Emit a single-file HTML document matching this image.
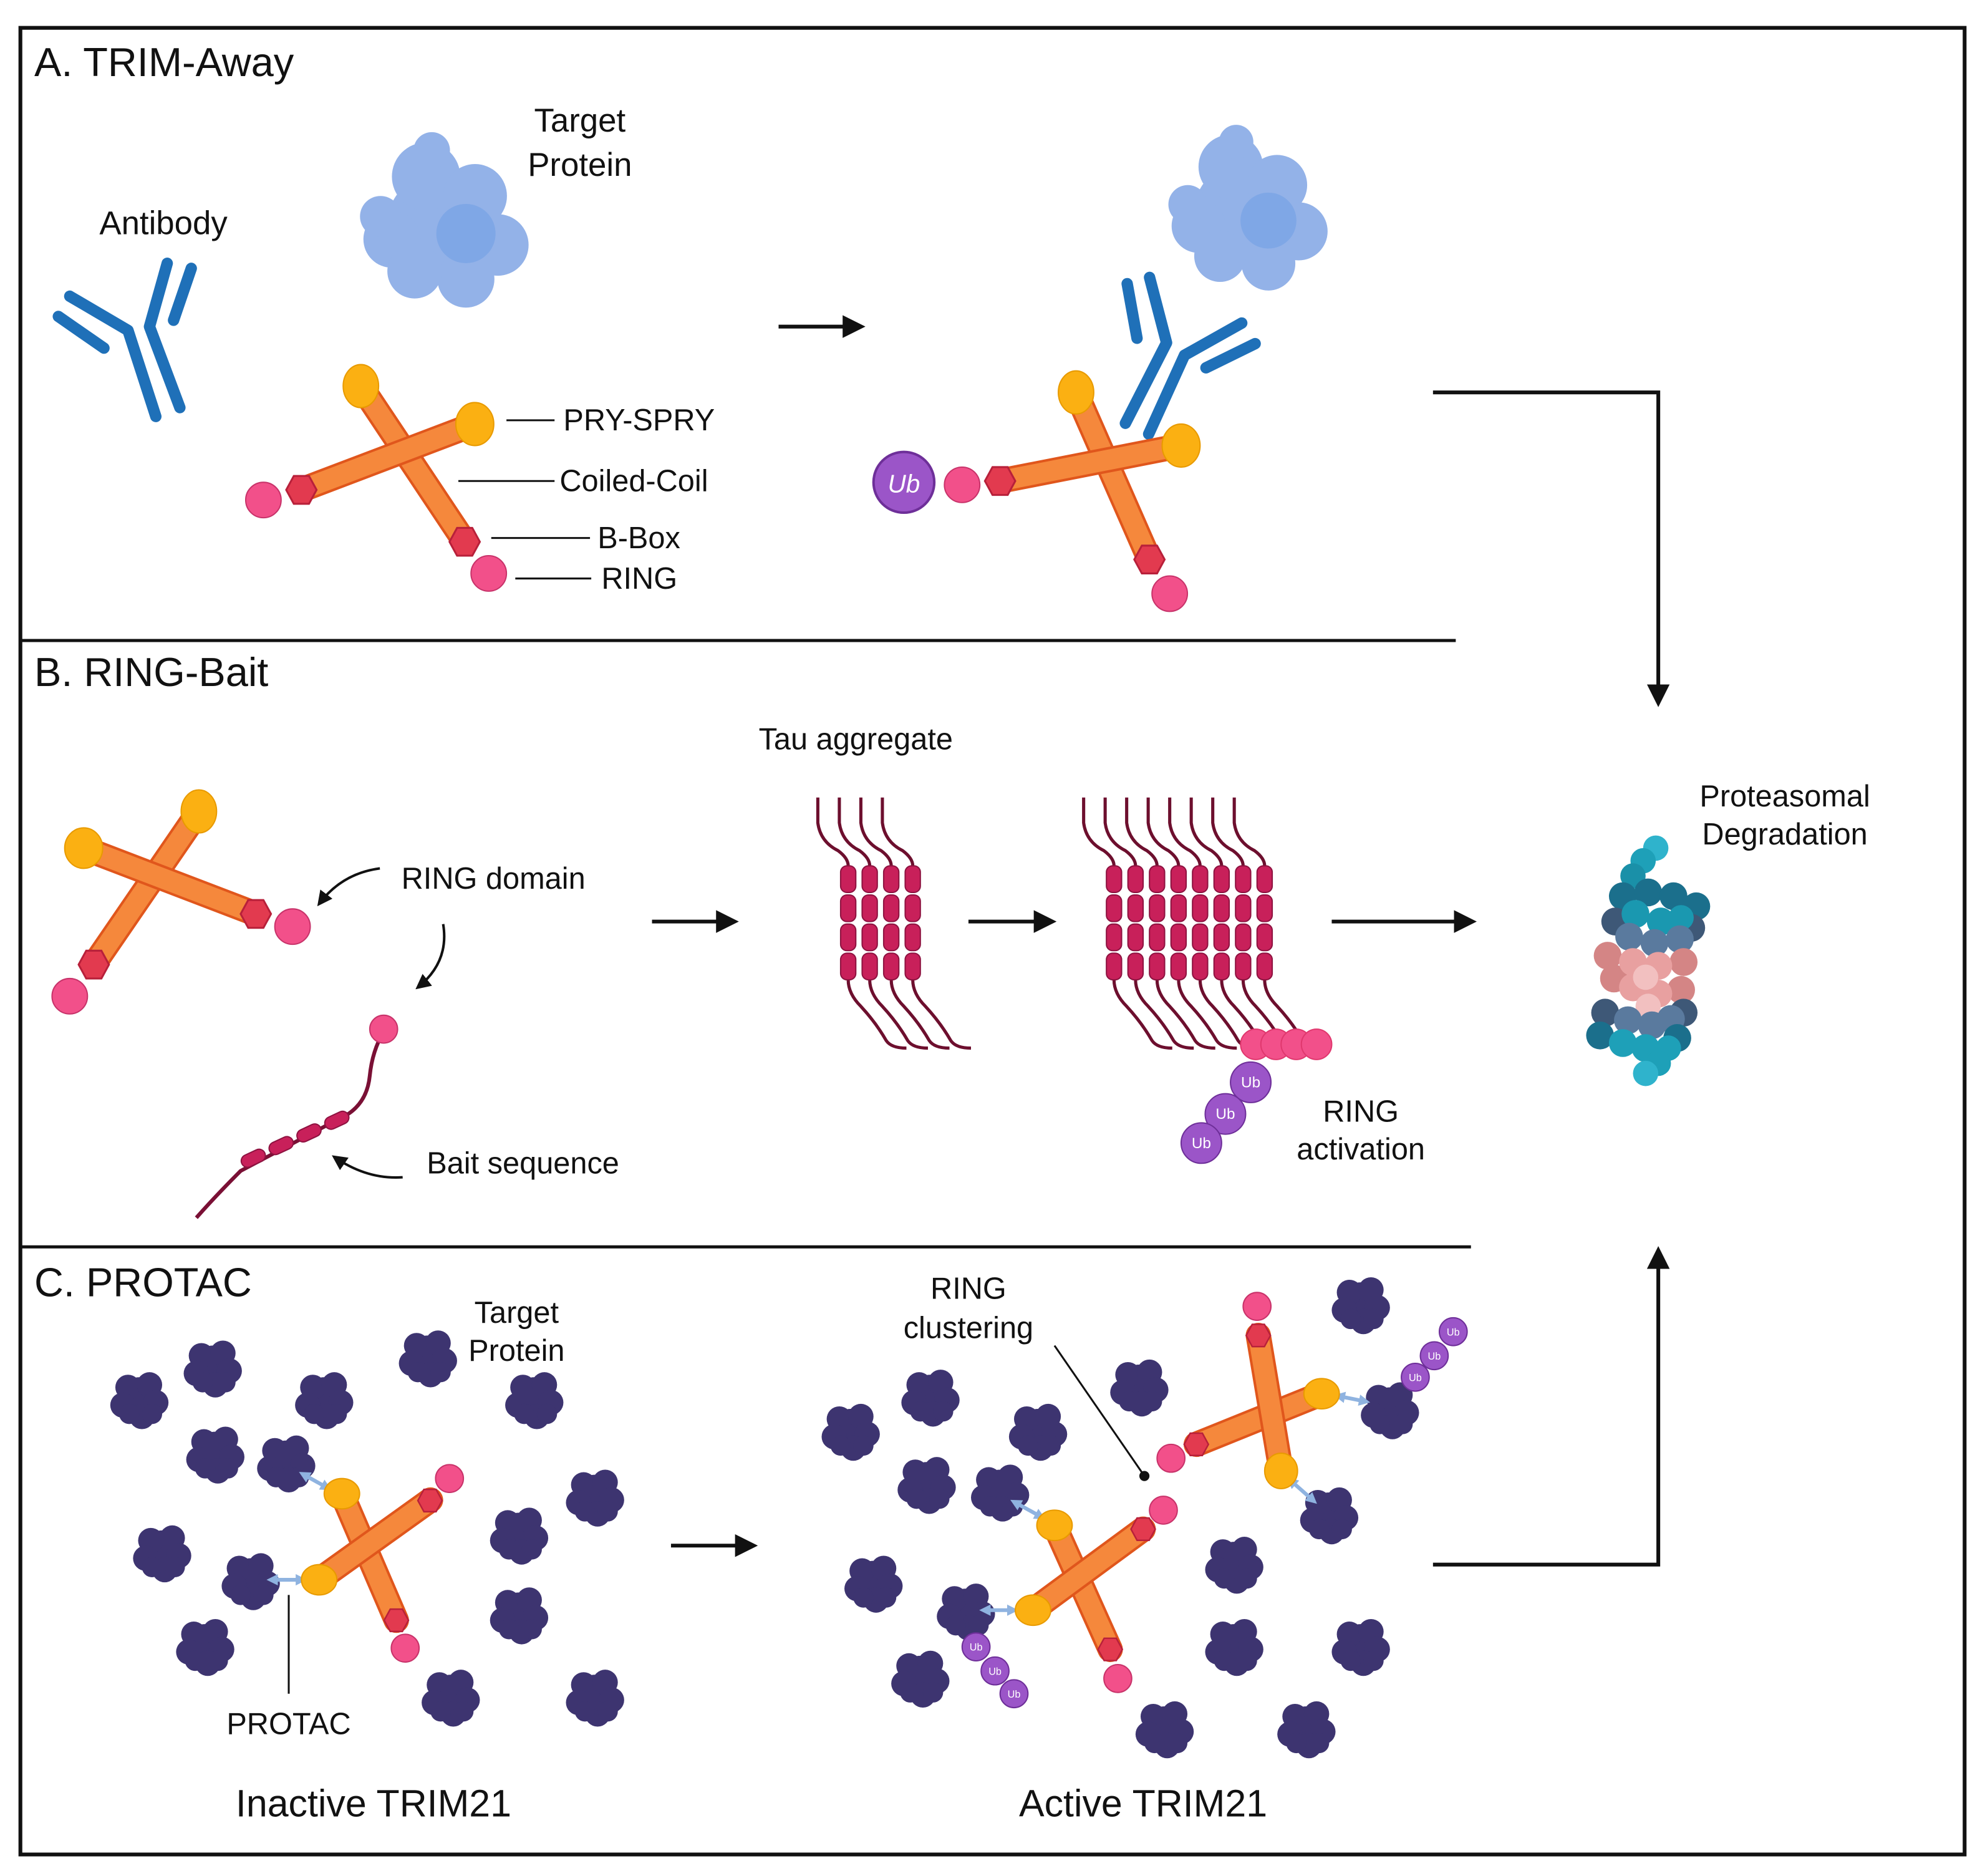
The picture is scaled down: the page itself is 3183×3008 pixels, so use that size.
<!DOCTYPE html>
<html><head><meta charset="utf-8">
<style>
html,body{margin:0;padding:0;background:#fff;}
svg{display:block;}
text{font-family:"Liberation Sans",sans-serif;fill:#111;}
</style></head>
<body>
<svg width="3183" height="3008" viewBox="0 0 1568 1482" xmlns="http://www.w3.org/2000/svg">
<defs>
<marker id="ah" viewBox="0 0 10 10" refX="8" refY="5" markerWidth="6" markerHeight="6" orient="auto"><path d="M0,0 L10,5 L0,10 z" fill="#111"/></marker>
<marker id="bh" viewBox="0 0 10 10" refX="5" refY="5" markerWidth="3" markerHeight="3" orient="auto-start-reverse"><path d="M0,0 L10,5 L0,10 z" fill="#8fb3e0"/></marker>
<symbol id="hex" viewBox="-14 -14 28 28" width="28" height="28" overflow="visible">
<polygon points="-12,0 -6,-11 6,-11 12,0 6,11 -6,11" fill="#e23a4f" stroke="#b8203a" stroke-width="1.5"/>
</symbol>
<g id="blob">
<circle cx="0" cy="0" r="17" fill="#3d3470"/>
<circle cx="-9" cy="-9" r="10" fill="#3d3470"/><circle cx="8" cy="-11" r="10" fill="#3d3470"/>
<circle cx="13" cy="3" r="10" fill="#3d3470"/><circle cx="-13" cy="5" r="10" fill="#3d3470"/>
<circle cx="2" cy="14" r="10" fill="#3d3470"/><circle cx="-8" cy="12" r="8" fill="#3d3470"/><circle cx="10" cy="12" r="8" fill="#3d3470"/>
</g>
<g id="tblob">
<circle cx="0" cy="0" r="50" fill="#93b2e8"/>
<circle cx="-45" cy="10" r="25" fill="#93b2e8"/><circle cx="-15" cy="-45" r="30" fill="#93b2e8"/>
<circle cx="28" cy="-28" r="28" fill="#93b2e8"/><circle cx="48" cy="15" r="27" fill="#93b2e8"/>
<circle cx="20" cy="45" r="25" fill="#93b2e8"/><circle cx="-25" cy="38" r="24" fill="#93b2e8"/>
<circle cx="-10" cy="-68" r="16" fill="#93b2e8"/><circle cx="-55" cy="-10" r="18" fill="#93b2e8"/>
<circle cx="20" cy="5" r="26" fill="#7fa7e6"/>
</g>
<g id="ab" fill="none" stroke="#1f70b8" stroke-width="9" stroke-linecap="round" stroke-linejoin="round">
<polyline points="55,234 101,261 123,329"/>
<line x1="46" y1="250" x2="82" y2="275"/>
<polyline points="132,208 118,258 142,322"/>
<line x1="151" y1="212" x2="137" y2="253"/>
</g>
</defs>

<rect x="16" y="22" width="1536" height="1443" fill="none" stroke="#111" stroke-width="3"/>
<line x1="16" y1="506" x2="1150" y2="506" stroke="#111" stroke-width="2.5"/>
<line x1="16" y1="985" x2="1162" y2="985" stroke="#111" stroke-width="2.5"/>

<text x="27" y="60" font-size="32">A. TRIM-Away</text>
<text x="27" y="542" font-size="32">B. RING-Bait</text>
<text x="27" y="1024" font-size="32">C. PROTAC</text>

<text x="458" y="104" font-size="26" text-anchor="middle">Target</text>
<text x="458" y="139" font-size="26" text-anchor="middle">Protein</text>
<text x="129" y="185" font-size="26" text-anchor="middle">Antibody</text>
<use href="#tblob" transform="translate(350,180) scale(0.9)"/>
<use href="#ab"/>
<g>
<line x1="285" y1="305" x2="367" y2="428" stroke="#e0561c" stroke-width="20" stroke-linecap="round"/>
<line x1="285" y1="305" x2="367" y2="428" stroke="#f5883c" stroke-width="16" stroke-linecap="round"/>
<line x1="375" y1="335" x2="238" y2="387" stroke="#e0561c" stroke-width="20" stroke-linecap="round"/>
<line x1="375" y1="335" x2="238" y2="387" stroke="#f5883c" stroke-width="16" stroke-linecap="round"/>
<ellipse cx="285" cy="305" rx="14" ry="17" fill="#fbb012" stroke="#e89a00"/>
<ellipse cx="375" cy="335" rx="15" ry="17" fill="#fbb012" stroke="#e89a00"/>
<use href="#hex" x="224" y="373"/><use href="#hex" x="353" y="414"/>
<circle cx="208" cy="395" r="14" fill="#f2508a" stroke="#c8336a"/>
<circle cx="386" cy="453" r="14" fill="#f2508a" stroke="#c8336a"/>
</g>
<g stroke="#111" stroke-width="1.5">
<line x1="400" y1="332" x2="438" y2="332"/><line x1="362" y1="380" x2="438" y2="380"/>
<line x1="388" y1="425" x2="466" y2="425"/><line x1="407" y1="457" x2="467" y2="457"/>
</g>
<g font-size="24">
<text x="445" y="340">PRY-SPRY</text><text x="442" y="388">Coiled-Coil</text>
<text x="472" y="433">B-Box</text><text x="475" y="465">RING</text>
</g>
<line x1="615" y1="258" x2="680" y2="258" stroke="#111" stroke-width="3" marker-end="url(#ah)"/>

<use href="#tblob" transform="translate(985,170) scale(0.85)"/>
<use href="#ab" transform="translate(930,275) rotate(45) translate(-110,-258)"/>
<g>
<line x1="850" y1="310" x2="908" y2="442" stroke="#e0561c" stroke-width="20" stroke-linecap="round"/>
<line x1="850" y1="310" x2="908" y2="442" stroke="#f5883c" stroke-width="16" stroke-linecap="round"/>
<line x1="933" y1="352" x2="790" y2="380" stroke="#e0561c" stroke-width="20" stroke-linecap="round"/>
<line x1="933" y1="352" x2="790" y2="380" stroke="#f5883c" stroke-width="16" stroke-linecap="round"/>
<ellipse cx="850" cy="310" rx="14" ry="17" fill="#fbb012" stroke="#e89a00"/>
<ellipse cx="933" cy="352" rx="15" ry="17" fill="#fbb012" stroke="#e89a00"/>
<use href="#hex" x="776" y="366"/><use href="#hex" x="894" y="428"/>
<circle cx="760" cy="383" r="14" fill="#f2508a" stroke="#c8336a"/>
<circle cx="924" cy="469" r="14" fill="#f2508a" stroke="#c8336a"/>
</g>
<circle cx="714" cy="381" r="24" fill="#9b55c8" stroke="#6e2f99" stroke-width="2"/>
<text x="714" y="389" font-size="20" text-anchor="middle" style="fill:#fff;font-style:italic">Ub</text>

<polyline points="1132,310 1310,310 1310,555" fill="none" stroke="#111" stroke-width="3" marker-end="url(#ah)"/>

<g>
<line x1="157" y1="641" x2="74" y2="762" stroke="#e0561c" stroke-width="20" stroke-linecap="round"/>
<line x1="157" y1="641" x2="74" y2="762" stroke="#f5883c" stroke-width="16" stroke-linecap="round"/>
<line x1="66" y1="670" x2="202" y2="722" stroke="#e0561c" stroke-width="20" stroke-linecap="round"/>
<line x1="66" y1="670" x2="202" y2="722" stroke="#f5883c" stroke-width="16" stroke-linecap="round"/>
<ellipse cx="157" cy="641" rx="14" ry="17" fill="#fbb012" stroke="#e89a00"/>
<ellipse cx="66" cy="670" rx="15" ry="16" fill="#fbb012" stroke="#e89a00"/>
<use href="#hex" x="60" y="748"/><use href="#hex" x="188" y="708"/>
<circle cx="55" cy="787" r="14" fill="#f2508a" stroke="#c8336a"/>
<circle cx="231" cy="732" r="14" fill="#f2508a" stroke="#c8336a"/>
</g>
<text x="317" y="702" font-size="24">RING domain</text>
<path d="M300,686 Q270,690 252,714" fill="none" stroke="#111" stroke-width="2" marker-end="url(#ah)"/>
<path d="M350,730 Q355,760 330,780" fill="none" stroke="#111" stroke-width="2" marker-end="url(#ah)"/>
<path d="M318,930 Q290,932 264,914" fill="none" stroke="#111" stroke-width="2" marker-end="url(#ah)"/>
<text x="337" y="927" font-size="24">Bait sequence</text>
<path d="M155,962 Q170,945 190,925 L275,880 Q290,870 292,850 Q294,830 303,815" fill="none" stroke="#7a1035" stroke-width="3"/>
<g fill="#c8205a" stroke="#8e1240">
<rect x="190" y="910" width="20" height="10" rx="5" transform="rotate(-25 200 915)"/>
<rect x="212" y="900" width="20" height="10" rx="5" transform="rotate(-25 222 905)"/>
<rect x="234" y="890" width="20" height="10" rx="5" transform="rotate(-25 244 895)"/>
<rect x="256" y="880" width="20" height="10" rx="5" transform="rotate(-25 266 885)"/>
</g>
<circle cx="303" cy="813" r="11" fill="#f2508a" stroke="#c8336a"/>

<text x="676" y="592" font-size="24" text-anchor="middle">Tau aggregate</text>
<line x1="515" y1="728" x2="580" y2="728" stroke="#111" stroke-width="3" marker-end="url(#ah)"/>
<line x1="765" y1="728" x2="831" y2="728" stroke="#111" stroke-width="3" marker-end="url(#ah)"/>
<line x1="1052" y1="728" x2="1163" y2="728" stroke="#111" stroke-width="3" marker-end="url(#ah)"/>

<g id="tcol">
<path d="M646,630 L646,650 Q648,665 662,672 Q670,678 670,684 M670,774 Q670,785 680,795 Q692,808 700,822 Q704,828 716,828" fill="none" stroke="#6d0f2e" stroke-width="2.5"/>
<g fill="#c8205a" stroke="#8e1240">
<rect x="664" y="684" width="12" height="21" rx="5"/><rect x="664" y="707" width="12" height="21" rx="5"/>
<rect x="664" y="730" width="12" height="21" rx="5"/><rect x="664" y="753" width="12" height="21" rx="5"/>
</g>
</g>
<use href="#tcol" x="17"/><use href="#tcol" x="34"/><use href="#tcol" x="51"/>
<use href="#tcol" x="210"/><use href="#tcol" x="227"/><use href="#tcol" x="244"/><use href="#tcol" x="261"/>
<use href="#tcol" x="278"/><use href="#tcol" x="295"/><use href="#tcol" x="312"/><use href="#tcol" x="329"/>
<g fill="#f2508a" stroke="#e0386e">
<circle cx="992" cy="825" r="12"/><circle cx="1008" cy="825" r="12"/><circle cx="1024" cy="825" r="12"/><circle cx="1040" cy="825" r="12"/>
</g>
<g fill="#9b55c8" stroke="#6e2f99">
<circle cx="988" cy="855" r="16"/><circle cx="968" cy="880" r="16"/><circle cx="949" cy="903" r="16"/>
</g>
<g font-size="12" text-anchor="middle">
<text x="988" y="859" style="fill:#fff">Ub</text><text x="968" y="884" style="fill:#fff">Ub</text><text x="949" y="907" style="fill:#fff">Ub</text>
</g>
<text x="1075" y="886" font-size="24" text-anchor="middle">RING</text>
<text x="1075" y="916" font-size="24" text-anchor="middle">activation</text>

<g>
<circle cx="1308" cy="670" r="10" fill="#2fb3cc"/><circle cx="1298" cy="680" r="10" fill="#1ea0b8"/><circle cx="1290" cy="692" r="10" fill="#1a90a8"/>
<g fill="#1b6f8c"><circle cx="1282" cy="708" r="11"/><circle cx="1302" cy="705" r="11"/><circle cx="1322" cy="708" r="11"/><circle cx="1340" cy="716" r="11"/></g>
<g fill="#3e5877"><circle cx="1276" cy="728" r="11"/><circle cx="1336" cy="733" r="11"/></g>
<g fill="#1a98b0"><circle cx="1292" cy="722" r="11"/><circle cx="1312" cy="728" r="11"/><circle cx="1328" cy="725" r="10"/></g>
<g fill="#5a7a9e"><circle cx="1287" cy="740" r="11"/><circle cx="1307" cy="745" r="11"/><circle cx="1327" cy="742" r="11"/></g>
<g fill="#d48585"><circle cx="1270" cy="755" r="11"/><circle cx="1275" cy="773" r="11"/><circle cx="1330" cy="760" r="11"/><circle cx="1328" cy="782" r="11"/></g>
<g fill="#e8a0a0"><circle cx="1290" cy="760" r="11"/><circle cx="1310" cy="763" r="11"/><circle cx="1290" cy="780" r="11"/><circle cx="1310" cy="785" r="11"/></g>
<g fill="#f2c0c0"><circle cx="1300" cy="772" r="10"/><circle cx="1302" cy="795" r="10"/></g>
<g fill="#3e5877"><circle cx="1268" cy="800" r="11"/><circle cx="1330" cy="800" r="11"/></g>
<g fill="#5a7a9e"><circle cx="1286" cy="806" r="11"/><circle cx="1305" cy="810" r="11"/><circle cx="1320" cy="805" r="11"/></g>
<g fill="#1b6f8c"><circle cx="1264" cy="818" r="11"/><circle cx="1325" cy="820" r="11"/></g>
<g fill="#1ea0b8"><circle cx="1282" cy="824" r="11"/><circle cx="1300" cy="828" r="11"/><circle cx="1318" cy="828" r="10"/><circle cx="1310" cy="840" r="10"/><circle cx="1300" cy="848" r="10" fill="#2fb3cc"/></g>
</g>
<text x="1410" y="637" font-size="24" text-anchor="middle">Proteasomal</text>
<text x="1410" y="667" font-size="24" text-anchor="middle">Degradation</text>

<polyline points="1132,1236 1310,1236 1310,988" fill="none" stroke="#111" stroke-width="3" marker-end="url(#ah)"/>
<line x1="530" y1="1221" x2="595" y2="1221" stroke="#111" stroke-width="3" marker-end="url(#ah)"/>
<text x="408" y="1045" font-size="24" text-anchor="middle">Target</text>
<text x="408" y="1075" font-size="24" text-anchor="middle">Protein</text>
<text x="765" y="1026" font-size="24" text-anchor="middle">RING</text>
<text x="765" y="1057" font-size="24" text-anchor="middle">clustering</text>
<line x1="833" y1="1063" x2="904" y2="1166" stroke="#111" stroke-width="1.5"/>
<circle cx="904" cy="1166" r="4" fill="#111"/>
<text x="228" y="1370" font-size="24" text-anchor="middle">PROTAC</text>
<line x1="228" y1="1260" x2="228" y2="1338" stroke="#111" stroke-width="1.5"/>
<text x="295" y="1435" font-size="30" text-anchor="middle">Inactive TRIM21</text>
<text x="903" y="1435" font-size="30" text-anchor="middle">Active TRIM21</text>

<use href="#blob" x="110" y="1105"/><use href="#blob" x="168" y="1080"/><use href="#blob" x="256" y="1105"/>
<use href="#blob" x="338" y="1072"/><use href="#blob" x="422" y="1105"/><use href="#blob" x="170" y="1148"/>
<use href="#blob" x="226" y="1155"/><use href="#blob" x="470" y="1182"/><use href="#blob" x="410" y="1212"/>
<use href="#blob" x="128" y="1226"/><use href="#blob" x="198" y="1248"/><use href="#blob" x="410" y="1275"/>
<use href="#blob" x="162" y="1300"/><use href="#blob" x="356" y="1340"/><use href="#blob" x="470" y="1340"/>
<use href="#blob" x="672" y="1130"/><use href="#blob" x="735" y="1103"/><use href="#blob" x="820" y="1130"/>
<use href="#blob" x="900" y="1095"/><use href="#blob" x="1075" y="1030"/><use href="#blob" x="1098" y="1113"/>
<use href="#blob" x="732" y="1172"/><use href="#blob" x="790" y="1178"/><use href="#blob" x="1050" y="1196"/>
<use href="#blob" x="690" y="1250"/><use href="#blob" x="975" y="1235"/><use href="#blob" x="763" y="1272"/>
<use href="#blob" x="975" y="1300"/><use href="#blob" x="1075" y="1300"/><use href="#blob" x="727" y="1325"/>
<use href="#blob" x="920" y="1365"/><use href="#blob" x="1032" y="1365"/>

<g stroke="#8fb3e0" stroke-width="3" marker-start="url(#bh)" marker-end="url(#bh)">
<line x1="240" y1="1165" x2="258" y2="1175"/>
<line x1="215" y1="1248" x2="238" y2="1248"/>
<line x1="802" y1="1187" x2="822" y2="1198"/>
<line x1="778" y1="1272" x2="800" y2="1272"/>
<line x1="1078" y1="1107" x2="1058" y2="1103"/>
<line x1="1037" y1="1185" x2="1020" y2="1170"/>
</g>

<g>
<line x1="270" y1="1180" x2="313" y2="1280" stroke="#e0561c" stroke-width="20" stroke-linecap="round"/>
<line x1="270" y1="1180" x2="313" y2="1280" stroke="#f5883c" stroke-width="16" stroke-linecap="round"/>
<line x1="252" y1="1248" x2="340" y2="1185" stroke="#e0561c" stroke-width="20" stroke-linecap="round"/>
<line x1="252" y1="1248" x2="340" y2="1185" stroke="#f5883c" stroke-width="16" stroke-linecap="round"/>
<ellipse cx="270" cy="1180" rx="14" ry="12" fill="#fbb012" stroke="#e89a00"/>
<ellipse cx="252" cy="1248" rx="14" ry="12" fill="#fbb012" stroke="#e89a00"/>
<use href="#hex" x="326" y="1171" transform="translate(338,1187) scale(0.8) translate(-338,-1187)"/>
<use href="#hex" x="299" y="1266" transform="translate(313,1280) scale(0.8) translate(-313,-1280)"/>
<circle cx="355" cy="1168" r="11" fill="#f2508a" stroke="#c8336a"/>
<circle cx="320" cy="1302" r="11" fill="#f2508a" stroke="#c8336a"/>
</g>
<g>
<line x1="833" y1="1205" x2="877" y2="1303" stroke="#e0561c" stroke-width="20" stroke-linecap="round"/>
<line x1="833" y1="1205" x2="877" y2="1303" stroke="#f5883c" stroke-width="16" stroke-linecap="round"/>
<line x1="816" y1="1272" x2="903" y2="1208" stroke="#e0561c" stroke-width="20" stroke-linecap="round"/>
<line x1="816" y1="1272" x2="903" y2="1208" stroke="#f5883c" stroke-width="16" stroke-linecap="round"/>
<ellipse cx="833" cy="1205" rx="14" ry="12" fill="#fbb012" stroke="#e89a00"/>
<ellipse cx="816" cy="1272" rx="14" ry="12" fill="#fbb012" stroke="#e89a00"/>
<use href="#hex" x="889" y="1194" transform="translate(903,1208) scale(0.8) translate(-903,-1208)"/>
<use href="#hex" x="863" y="1289" transform="translate(877,1303) scale(0.8) translate(-877,-1303)"/>
<circle cx="919" cy="1193" r="11" fill="#f2508a" stroke="#c8336a"/>
<circle cx="883" cy="1326" r="11" fill="#f2508a" stroke="#c8336a"/>
</g>
<g>
<line x1="1044" y1="1101" x2="945" y2="1141" stroke="#e0561c" stroke-width="20" stroke-linecap="round"/>
<line x1="1044" y1="1101" x2="945" y2="1141" stroke="#f5883c" stroke-width="16" stroke-linecap="round"/>
<line x1="1012" y1="1162" x2="994" y2="1055" stroke="#e0561c" stroke-width="20" stroke-linecap="round"/>
<line x1="1012" y1="1162" x2="994" y2="1055" stroke="#f5883c" stroke-width="16" stroke-linecap="round"/>
<ellipse cx="1044" cy="1101" rx="14" ry="12" fill="#fbb012" stroke="#e89a00"/>
<ellipse cx="1012" cy="1162" rx="13" ry="14" fill="#fbb012" stroke="#e89a00"/>
<use href="#hex" x="931" y="1127" transform="translate(945,1141) scale(0.8) translate(-945,-1141)"/>
<use href="#hex" x="980" y="1041" transform="translate(994,1055) scale(0.8) translate(-994,-1055)"/>
<circle cx="925" cy="1152" r="11" fill="#f2508a" stroke="#c8336a"/>
<circle cx="993" cy="1032" r="11" fill="#f2508a" stroke="#c8336a"/>
</g>
<g fill="#9b55c8" stroke="#6e2f99">
<circle cx="1148" cy="1052" r="11"/><circle cx="1133" cy="1071" r="11"/><circle cx="1118" cy="1088" r="11"/>
<circle cx="771" cy="1301" r="11"/><circle cx="786" cy="1320" r="11"/><circle cx="801" cy="1338" r="11"/>
</g>
<g font-size="8" text-anchor="middle">
<text x="1148" y="1055" style="fill:#fff">Ub</text><text x="1133" y="1074" style="fill:#fff">Ub</text><text x="1118" y="1091" style="fill:#fff">Ub</text>
<text x="771" y="1304" style="fill:#fff">Ub</text><text x="786" y="1323" style="fill:#fff">Ub</text><text x="801" y="1341" style="fill:#fff">Ub</text>
</g>
</svg>
</body></html>
